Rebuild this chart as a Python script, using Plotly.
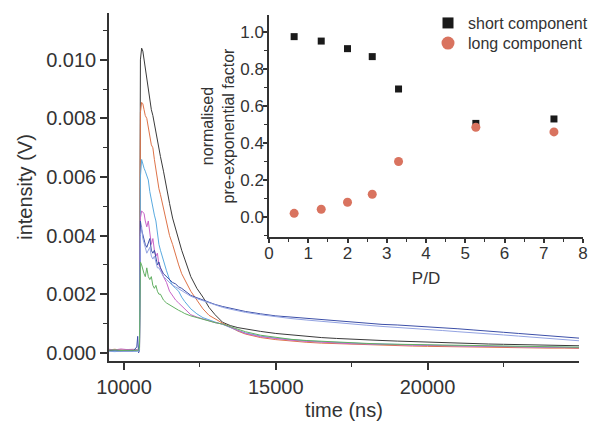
import plotly.graph_objects as go

# ---- decay traces: time axis (ns) shared by all transients ----
time_ns = [9500, 9700, 9900, 10100, 10300, 10420, 10450, 10480, 10510, 10540,
           10580, 10620, 10660, 10700, 10750, 10800, 10850, 10900, 10950, 11000,
           11050, 11100, 11150, 11200, 11300, 11400, 11500, 11600, 11700, 11800,
           11900, 12000, 12200, 12400, 12600, 12800, 13000, 13250, 13500, 13750,
           14000, 14500, 15000, 15500, 16000, 16500, 17000, 17500, 18000, 18500,
           19000, 19500, 20000, 20500, 21000, 21500, 22000, 22500, 23000, 23500,
           24000, 24500, 25000]

# intensities (V)
v_black = [0.00008, 0.00007, 0.00009, 0.00006, 0.00008, 0.00007, 0.00005, 0.00006, 0.00007, 0.0100,
           0.0104, 0.0103, 0.0100, 0.0097, 0.0093, 0.0090, 0.0086, 0.0083, 0.0081, 0.0078,
           0.0075, 0.0072, 0.0070, 0.0067, 0.0062, 0.0056, 0.0051, 0.0046, 0.0042, 0.0039,
           0.0035, 0.0032, 0.0026, 0.0022, 0.0019, 0.00155, 0.0013, 0.00104, 0.00093, 0.00086,
           0.00081, 0.00073, 0.00066, 0.00061, 0.00056, 0.00052, 0.00049, 0.00046, 0.00044, 0.00042,
           0.00040, 0.00038, 0.00036, 0.00034, 0.00033, 0.00031, 0.00030, 0.00029, 0.00028, 0.00026,
           0.00025, 0.00025, 0.00024]

v_red = [0.00010, 0.00012, 0.00009, 0.00011, 0.00010, 0.00009, 0.00008, 0.00007, 0.00010, 0.0082,
         0.00855, 0.0085, 0.0083, 0.0081, 0.0080, 0.0076, 0.0074, 0.0071, 0.0070, 0.0066,
         0.0062, 0.0059, 0.0056, 0.0054, 0.0049, 0.0044, 0.0040, 0.0037, 0.0033, 0.0030,
         0.0027, 0.0025, 0.0021, 0.0018, 0.0015, 0.00128, 0.00115, 0.00101, 0.00088, 0.00074,
         0.00064, 0.00052, 0.00045, 0.00040, 0.00036, 0.00033, 0.00031, 0.00029, 0.00027, 0.00025,
         0.00024, 0.00023, 0.00022, 0.00021, 0.00020, 0.00020, 0.00019, 0.00018, 0.00018, 0.00017,
         0.00016, 0.00016, 0.00015]

v_sky = [0.00005, 0.00004, 0.00006, 0.00005, 0.00004, 0.00005, 0.00006, 0.00005, 0.0003, 0.0060,
         0.0066, 0.0064, 0.0063, 0.0062, 0.0060, 0.0059, 0.0055, 0.0052, 0.0050, 0.0047,
         0.0045, 0.0040, 0.0037, 0.0035, 0.0031, 0.0028, 0.0025, 0.0023, 0.0022, 0.0021,
         0.0019, 0.00175, 0.0015, 0.00133, 0.0012, 0.00112, 0.00105, 0.00097, 0.00086, 0.00076,
         0.00068, 0.00057, 0.00050, 0.00045, 0.00041, 0.00038, 0.00035, 0.00033, 0.00031, 0.00030,
         0.00028, 0.00027, 0.00026, 0.00025, 0.00024, 0.00023, 0.00022, 0.00022, 0.00021, 0.00020,
         0.00020, 0.00019, 0.00018]

v_magenta = [0.00012, 0.00010, 0.00013, 0.00011, 0.00012, 0.00010, 0.00009, 0.00010, 0.0002, 0.0046,
             0.00484, 0.0048, 0.00476, 0.0045, 0.0043, 0.0045, 0.0041, 0.0037, 0.0039, 0.0035,
             0.0033, 0.0034, 0.0030, 0.0029, 0.0026, 0.0024, 0.0021, 0.00195, 0.0018, 0.0017,
             0.0016, 0.0015, 0.0013, 0.00122, 0.00115, 0.00108, 0.00103, 0.00098, 0.00087, 0.00075,
             0.00066, 0.00055, 0.00048, 0.00043, 0.00039, 0.00036, 0.00034, 0.00031, 0.00030, 0.00028,
             0.00027, 0.00026, 0.00025, 0.00024, 0.00023, 0.00022, 0.00021, 0.00020, 0.00020, 0.00019,
             0.00018, 0.00018, 0.00017]

v_blue = [0.00006, 0.00008, 0.00005, 0.00007, 0.00006, 0.0002, 0.00056, 0.0000, 0.0001, 0.0045,
          0.0042, 0.0040, 0.0038, 0.0037, 0.0036, 0.0038, 0.0039, 0.0035, 0.0034, 0.0035,
          0.0033, 0.0030, 0.0031, 0.0029, 0.0027, 0.0026, 0.0025, 0.0024, 0.00235, 0.00225,
          0.0022, 0.00212, 0.00196, 0.00188, 0.0018, 0.00172, 0.00165, 0.00158, 0.00152, 0.00146,
          0.00141, 0.00133, 0.00126, 0.00122, 0.00118, 0.00113, 0.00108, 0.00104, 0.00100, 0.00097,
          0.00095, 0.00092, 0.00090, 0.00086, 0.00082, 0.00078, 0.00075, 0.00070, 0.00066, 0.00062,
          0.00058, 0.00054, 0.00050]

v_lavender = [0.00004, 0.00006, 0.00005, 0.00004, 0.00005, 0.00006, 0.0001, 0.00004, 0.0001, 0.0040,
              0.0043, 0.0039, 0.0037, 0.0036, 0.0034, 0.0035, 0.0036, 0.0033, 0.0032, 0.0033,
              0.0031, 0.0029, 0.0029, 0.0028, 0.0026, 0.0025, 0.0024, 0.0023, 0.00225, 0.00218,
              0.00212, 0.00205, 0.00193, 0.00185, 0.00178, 0.0017, 0.00163, 0.00155, 0.00149, 0.00143,
              0.00138, 0.0013, 0.00123, 0.00117, 0.00112, 0.00107, 0.00102, 0.00098, 0.00094, 0.00090,
              0.00087, 0.00083, 0.00080, 0.00076, 0.00072, 0.00069, 0.00065, 0.00061, 0.00057, 0.00053,
              0.00049, 0.00045, 0.00041]

v_green = [0.00009, 0.00010, 0.00008, 0.00009, 0.00010, 0.00009, 0.00008, 0.00009, 0.0002, 0.0031,
           0.0030, 0.0028, 0.0027, 0.0026, 0.0029, 0.0026, 0.0025, 0.0026, 0.0023, 0.0022,
           0.0023, 0.0021, 0.0020, 0.0020, 0.0018, 0.0017, 0.00163, 0.00157, 0.0015, 0.00145,
           0.0014, 0.00134, 0.00126, 0.0012, 0.00113, 0.00107, 0.00103, 0.00098, 0.00090, 0.00080,
           0.00072, 0.00060, 0.00052, 0.00046, 0.00042, 0.00039, 0.00036, 0.00034, 0.00032, 0.00030,
           0.00029, 0.00028, 0.00027, 0.00026, 0.00025, 0.00024, 0.00023, 0.00023, 0.00022, 0.00021,
           0.00020, 0.00020, 0.00019]

trace_colors = ["#3a3a3a", "#de7348", "#5aaae0", "#c864c8", "#3c4fa8", "#93a3e2", "#62b062"]
trace_values = [v_black, v_red, v_sky, v_magenta, v_blue, v_lavender, v_green]

# ---- inset: pre-exponential factors vs P/D ----
pd_ratio = [0.64, 1.33, 2.0, 2.63, 3.3, 5.27, 7.26]
short_component = [0.975, 0.951, 0.91, 0.867, 0.692, 0.506, 0.53]
long_component = [0.02, 0.042, 0.08, 0.123, 0.30, 0.485, 0.46]

FONT = "Liberation Sans, Arial, sans-serif"
INK = "#333333"

fig = go.Figure()

for vals, col in zip(trace_values, trace_colors):
    fig.add_trace(go.Scatter(x=time_ns, y=vals, mode="lines",
                             line=dict(color=col, width=1), showlegend=False,
                             hoverinfo="skip"))

fig.add_trace(go.Scatter(x=pd_ratio, y=short_component, mode="markers",
                         marker=dict(symbol="square", size=7, color="#1a1a1a"),
                         xaxis="x2", yaxis="y2", showlegend=False))
fig.add_trace(go.Scatter(x=pd_ratio, y=long_component, mode="markers",
                         marker=dict(symbol="circle", size=9, color="#d9735f"),
                         xaxis="x2", yaxis="y2", showlegend=False))

# legend entries drawn with larger symbols, one per legend box
fig.add_trace(go.Scatter(x=[None], y=[None], mode="markers", name="short component",
                         marker=dict(symbol="square", size=11, color="#1a1a1a"),
                         xaxis="x2", yaxis="y2", legend="legend"))
fig.add_trace(go.Scatter(x=[None], y=[None], mode="markers", name="long component",
                         marker=dict(symbol="circle", size=13, color="#d9735f"),
                         xaxis="x2", yaxis="y2", legend="legend2"))

axis_common = dict(showline=True, linecolor=INK, linewidth=1.5, ticks="outside",
                   tickcolor=INK, tickwidth=1.5, showgrid=False, zeroline=False,
                   mirror=False, automargin=False)

legend_common = dict(xanchor="left", yanchor="top", font=dict(size=16, color=INK),
                     bgcolor="rgba(0,0,0,0)", itemwidth=30, tracegroupgap=0)

fig.update_layout(
    width=596, height=421,
    margin=dict(l=109, r=13, t=13, b=60, autoexpand=False),
    paper_bgcolor="white", plot_bgcolor="rgba(0,0,0,0)",
    font=dict(family=FONT, color=INK, size=20),
    xaxis=dict(**axis_common, domain=[0, 0.9916], range=[9505, 24990],
               tick0=10000, dtick=5000, tickformat="d", ticklen=7,
               tickfont=dict(size=20),
               minor=dict(dtick=2500, tick0=10000, ticks="outside", ticklen=4,
                          tickcolor=INK, tickwidth=1.2),
               title=dict(text="time (ns)", font=dict(size=20), standoff=6)),
    yaxis=dict(**axis_common, domain=[0, 1], range=[-0.00028, 0.0116],
               tick0=0, dtick=0.002, tickformat=".3f", ticklen=7,
               tickfont=dict(size=20),
               minor=dict(dtick=0.001, tick0=0, ticks="outside", ticklen=4,
                          tickcolor=INK, tickwidth=1.2),
               title=dict(text="intensity (V)", font=dict(size=20), standoff=8)),
    xaxis2=dict(**axis_common, domain=[0.3376, 1], range=[0, 8], anchor="y2",
                tick0=0, dtick=1, ticklen=4, tickfont=dict(size=17),
                ticklabelstandoff=-4,
                minor=dict(dtick=0.5, ticks="outside", ticklen=3,
                           tickcolor=INK, tickwidth=1),
                title=dict(text="P/D", font=dict(size=17), standoff=10)),
    yaxis2=dict(**axis_common, domain=[0.3563, 0.9943], range=[-0.108, 1.092],
                anchor="x2", tick0=0, dtick=0.2, tickformat=".1f", ticklen=4,
                tickfont=dict(size=17), ticklabelstandoff=-4,
                minor=dict(dtick=0.1, ticks="outside", ticklen=3,
                           tickcolor=INK, tickwidth=1),
                title=dict(text="normalised<br>pre-exponential factor",
                           font=dict(size=16), standoff=2)),
    legend=dict(**legend_common, x=0.673, y=1.02),
    legend2=dict(**legend_common, x=0.673, y=0.962),
)

fig.write_html("out.html")
